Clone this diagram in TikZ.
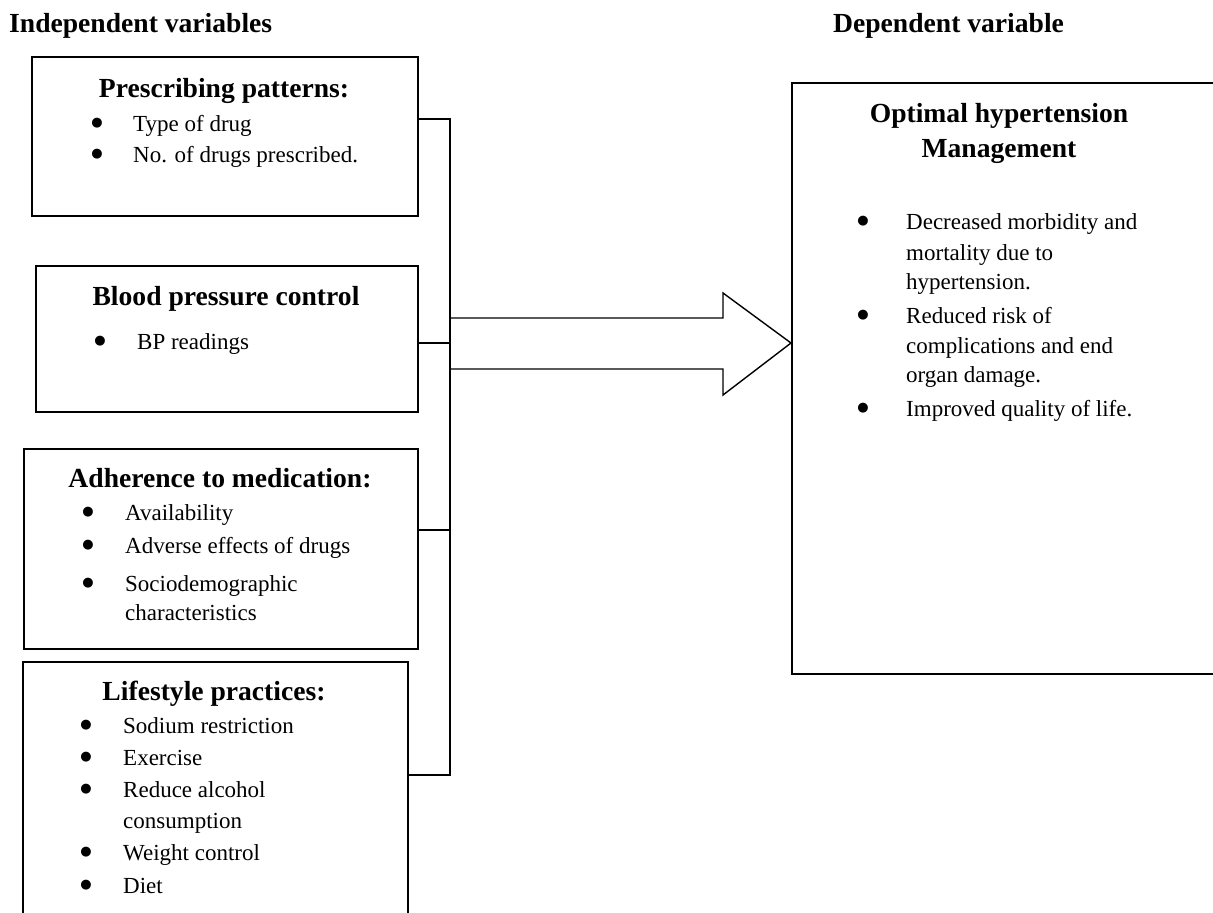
\documentclass[tikz,border=0pt]{standalone}
\usepackage{fontspec}
\setmainfont{Liberation Serif}
\newfontfamily\symfont{DejaVu Sans}
\newcommand{\bigbul}{\raisebox{4.8pt}{\symfont\fontsize{13}{13}\selectfont ●}}
\begin{document}
\begin{tikzpicture}[
    x=1pt, y=-1pt,
    box/.style={rectangle, draw, line width=1.8pt, anchor=north west, inner sep=0pt},
    head/.style={anchor=base, inner sep=0pt, font=\fontsize{27.6}{33}\selectfont\bfseries},
    item/.style={anchor=base west, inner sep=0pt, font=\fontsize{23}{28}\selectfont},
    bul/.style={anchor=base, inner sep=0pt},
    link/.style={line width=1.8pt}
]
    \useasboundingbox (0,0) rectangle (1213,913);
    \clip (0,0) rectangle (1213,913);

    % Titles
    \node[head, anchor=base west] (indep) at (9,32) {Independent variables};
    \node[head, anchor=base west] (dep) at (833,32) {Dependent variable};

    % Independent variable boxes
    \node[box, minimum width=386pt, minimum height=159pt] (presc) at (31,56) {};
    \node[box, minimum width=382pt, minimum height=146pt] (bp) at (35,265) {};
    \node[box, minimum width=394pt, minimum height=200pt] (adher) at (23,448) {};
    \node[box, minimum width=385pt, minimum height=290pt] (life) at (22,661) {};

    % Dependent variable box
    \node[box, minimum width=450pt, minimum height=591pt] (outcome) at (791,82) {};

    % Prescribing patterns
    \node[head] (prescT) at (224,97) {Prescribing patterns:};
    \node[bul] at (97,131) {\bigbul};
    \node[item] (presc1) at (133,131) {Type of drug};
    \node[bul] at (97,162) {\bigbul};
    \node[item] (presc2) at (133,162) {No. of drugs prescribed.};

    % Blood pressure control
    \node[head] (bpT) at (226,305) {Blood pressure control};
    \node[bul] at (100,349) {\bigbul};
    \node[item] (bp1) at (137,349) {BP readings};

    % Adherence to medication
    \node[head] (adherT) at (220,487) {Adherence to medication:};
    \node[bul] at (88,520) {\bigbul};
    \node[item] (adher1) at (125,520) {Availability};
    \node[bul] at (88,553) {\bigbul};
    \node[item] (adher2) at (125,553) {Adverse effects of drugs};
    \node[bul] at (88,591) {\bigbul};
    \node[item] (adher3) at (125,591) {Sociodemographic};
    \node[item] (adher3b) at (125,620) {characteristics};

    % Lifestyle practices
    \node[head] (lifeT) at (214,700) {Lifestyle practices:};
    \node[bul] at (86,733) {\bigbul};
    \node[item] (life1) at (123,733) {Sodium restriction};
    \node[bul] at (86,765) {\bigbul};
    \node[item] (life2) at (123,765) {Exercise};
    \node[bul] at (86,797) {\bigbul};
    \node[item] (life3) at (123,797) {Reduce alcohol};
    \node[item] (life3b) at (123,828) {consumption};
    \node[bul] at (86,860) {\bigbul};
    \node[item] (life4) at (123,860) {Weight control};
    \node[bul] at (86,893) {\bigbul};
    \node[item] (life5) at (123,893) {Diet};

    % Optimal hypertension management
    \node[head] (outT) at (999,122) {Optimal hypertension};
    \node[head] (outTb) at (999,157) {Management};
    \node[bul] at (863,229) {\bigbul};
    \node[item] (out1) at (906,229) {Decreased morbidity and};
    \node[item] (out1b) at (906,260) {mortality due to};
    \node[item] (out1c) at (906,289) {hypertension.};
    \node[bul] at (863,323) {\bigbul};
    \node[item] (out2) at (906,323) {Reduced risk of};
    \node[item] (out2b) at (906,353) {complications and end};
    \node[item] (out2c) at (906,382) {organ damage.};
    \node[bul] at (863,416) {\bigbul};
    \node[item] (out3) at (906,416) {Improved quality of life.};

    % Connectors
    \coordinate (j1) at (450,119);
    \coordinate (j2) at (450,343);
    \coordinate (j3) at (450,530);
    \coordinate (j4) at (450,775);
    \draw[link] (j1 -| presc.east) -- (j1) -- (j4) -- (j4 -| life.east);
    \draw[link] (j2 -| bp.east) -- (j2);
    \draw[link] (j3 -| adher.east) -- (j3);

    % Block arrow
    \coordinate (tip) at (outcome.west |- j2);
    \draw[line width=1.4pt, line join=miter] (j2 |- 0,318) -- (723,318) -- (723,293) -- (tip)
        -- (723,395) -- (723,369) -- (j2 |- 0,369);
\end{tikzpicture}
\end{document}
